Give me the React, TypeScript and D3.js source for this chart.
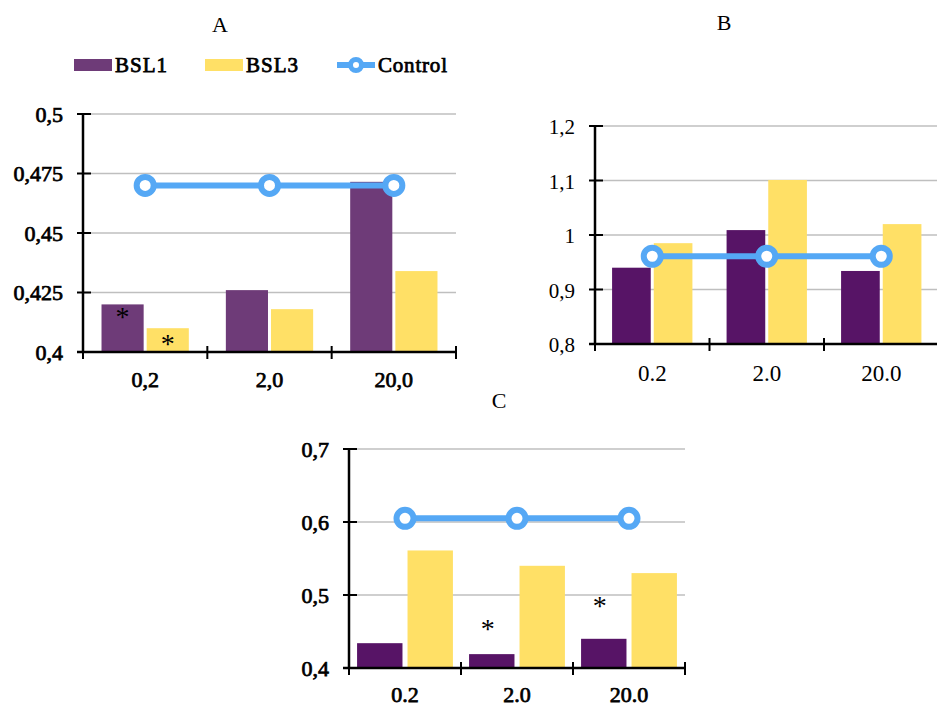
import React from "react";
import * as d3 from "d3";

// ---------- data ----------
const seriesNames = ["BSL1", "BSL3"];

const categoriesA = ["0,2", "2,0", "20,0"];
const bsl1A = [0.42, 0.426, 0.4715];
const bsl3A = [0.41, 0.418, 0.434];
const controlA = [0.47, 0.47, 0.47];
const ticksA = [0.4, 0.425, 0.45, 0.475, 0.5];
const tickLabelsA = ["0,4", "0,425", "0,45", "0,475", "0,5"];
const starsA = [
  { cat: 0, series: 0, value: 0.4164 },
  { cat: 0, series: 1, value: 0.405 },
];

const categoriesB = ["0.2", "2.0", "20.0"];
const bsl1B = [0.94, 1.009, 0.934];
const bsl3B = [0.985, 1.101, 1.02];
const controlB = [0.961, 0.961, 0.961];
const ticksB = [0.8, 0.9, 1.0, 1.1, 1.2];
const tickLabelsB = ["0,8", "0,9", "1", "1,1", "1,2"];

const categoriesC = ["0.2", "2.0", "20.0"];
const bsl1C = [0.434, 0.419, 0.44];
const bsl3C = [0.561, 0.54, 0.53];
const controlC = [0.605, 0.605, 0.605];
const ticksC = [0.4, 0.5, 0.6, 0.7];
const tickLabelsC = ["0,4", "0,5", "0,6", "0,7"];
const starsC = [
  { cat: 1, series: 0, value: 0.459 },
  { cat: 2, series: 0, value: 0.49 },
];

const BLUE = "#55A8F5";
const YELLOW = "#FFE066";
const FONT = "Liberation Serif, Times New Roman, serif";

// faux-bold props (thin stroke on regular serif)
const boldProps = { stroke: "#000", strokeWidth: 0.75, paintOrder: "stroke" } as any;

type PanelProps = {
  title: string;
  titleX: number;
  titleY: number;
  left: number;
  right: number;
  top: number;
  bottom: number;
  categories: string[];
  s1: number[];
  s2: number[];
  control: number[];
  ticks: number[];
  tickLabels: string[];
  bold: boolean;
  fontSize: number;
  yFontSize: number;
  yDx?: number;
  c1: string;
  padOuter: number;
  padInner: number;
  xLabelOffset: number;
  stars?: { cat: number; series: number; value: number }[];
  starDx?: number;
};

function Panel(p: PanelProps) {
  const y = d3
    .scaleLinear()
    .domain([p.ticks[0], p.ticks[p.ticks.length - 1]])
    .range([p.bottom, p.top]);
  const x0 = d3.scaleBand<string>().domain(p.categories).range([p.left, p.right]).padding(0);
  const x1 = d3
    .scaleBand<string>()
    .domain(seriesNames)
    .range([0, x0.bandwidth()])
    .paddingInner(p.padInner)
    .paddingOuter(p.padOuter);
  const vals = [p.s1, p.s2];
  const colors = [p.c1, YELLOW];
  const line = d3
    .line<number>()
    .x((_, i) => (x0(p.categories[i]) as number) + x0.bandwidth() / 2)
    .y((d) => y(d));
  const bp = p.bold ? boldProps : {};
  const boundaries = [...p.categories.map((c) => x0(c) as number), p.right];
  return (
    <g fontFamily={FONT}>
      <text x={p.titleX} y={p.titleY} fontSize={22} textAnchor="middle" dominantBaseline="central" fill="#000">
        {p.title}
      </text>
      {p.ticks.slice(1).map((t, i) => (
        <line key={"g" + i} x1={p.left} x2={p.right} y1={y(t)} y2={y(t)} stroke="#BFBFBF" strokeWidth={1.5} />
      ))}
      {p.categories.map((c, ci) =>
        seriesNames.map((s, si) => (
          <rect
            key={c + s}
            x={(x0(c) as number) + (x1(s) as number)}
            y={y(vals[si][ci])}
            width={x1.bandwidth()}
            height={p.bottom - y(vals[si][ci])}
            fill={colors[si]}
          />
        ))
      )}
      {/* axes */}
      <line x1={p.left} x2={p.left} y1={p.top} y2={p.bottom} stroke="#000" strokeWidth={2.5} />
      <line x1={p.left - 6} x2={p.right} y1={p.bottom} y2={p.bottom} stroke="#000" strokeWidth={2.5} />
      {p.ticks.map((t, i) => (
        <g key={"t" + i}>
          <line x1={p.left - 6} x2={p.left + 8} y1={y(t)} y2={y(t)} stroke="#000" strokeWidth={2} />
          <text
            x={p.left - 20}
            y={y(t) + (p.yDx || 0)}
            textAnchor="end"
            dominantBaseline="central"
            fontSize={p.yFontSize}
            fill="#000"
            {...bp}
          >
            {p.tickLabels[i]}
          </text>
        </g>
      ))}
      {boundaries.map((bx, i) => (
        <line key={"xt" + i} x1={bx} x2={bx} y1={p.bottom - 6} y2={p.bottom + 7} stroke="#000" strokeWidth={2} />
      ))}
      {p.categories.map((c) => (
        <text
          key={"xl" + c}
          x={(x0(c) as number) + x0.bandwidth() / 2}
          y={p.bottom + p.xLabelOffset}
          textAnchor="middle"
          dominantBaseline="central"
          fontSize={p.fontSize}
          fill="#000"
          {...bp}
        >
          {c}
        </text>
      ))}
      <path d={line(p.control) || ""} fill="none" stroke={BLUE} strokeWidth={6} />
      {p.control.map((v, i) => (
        <circle
          key={"m" + i}
          cx={(x0(p.categories[i]) as number) + x0.bandwidth() / 2}
          cy={y(v)}
          r={8.5}
          fill="#fff"
          stroke={BLUE}
          strokeWidth={6}
        />
      ))}
      {(p.stars || []).map((s, i) => (
        <text
          key={"s" + i}
          x={(x0(p.categories[s.cat]) as number) + (x1(seriesNames[s.series]) as number) + x1.bandwidth() / 2 + (p.starDx || 0)}
          y={y(s.value) + 13}
          textAnchor="middle"
          fontSize={28}
          fill="#000"
        >
          *
        </text>
      ))}
    </g>
  );
}

function Legend() {
  const items = [
    { name: "BSL1", x: 74, color: "#6E3B78", type: "rect" },
    { name: "BSL3", x: 205, color: YELLOW, type: "rect" },
    { name: "Control", x: 337, color: BLUE, type: "line" },
  ];
  const cy = 65;
  return (
    <g fontFamily={FONT}>
      {items.map((it) => (
        <g key={it.name}>
          {it.type === "rect" ? (
            <rect x={it.x} y={cy - 6} width={38} height={12} fill={it.color} />
          ) : (
            <g>
              <line x1={it.x} x2={it.x + 38} y1={cy} y2={cy} stroke={it.color} strokeWidth={6} />
              <circle cx={it.x + 19} cy={cy} r={5.5} fill="#fff" stroke={it.color} strokeWidth={5} />
            </g>
          )}
          <text
            x={it.x + 41}
            y={cy}
            dominantBaseline="central"
            fontSize={21}
            fill="#000"
            letterSpacing={it.name === "Control" ? 0.8 : 1}
            {...boldProps}
          >
            {it.name}
          </text>
        </g>
      ))}
    </g>
  );
}

export default function App() {
  return (
    <svg
      width={937}
      height={705}
      style={{ position: "fixed", left: 0, top: 0, background: "#fff" }}
    >
      <rect width={937} height={705} fill="#fff" />
      <Legend />
      <Panel
        title="A"
        titleX={220}
        titleY={24}
        left={83}
        right={456}
        top={114}
        bottom={352}
        categories={categoriesA}
        s1={bsl1A}
        s2={bsl3A}
        control={controlA}
        ticks={ticksA}
        tickLabels={tickLabelsA}
        bold={true}
        fontSize={22}
        yFontSize={22}
        c1="#6E3B78"
        padInner={0.067}
        padOuter={0.41}
        xLabelOffset={27}
        stars={starsA}
      />
      <Panel
        title="B"
        titleX={724}
        titleY={22}
        left={595}
        right={938.5}
        top={126}
        bottom={344}
        categories={categoriesB}
        s1={bsl1B}
        s2={bsl3B}
        control={controlB}
        ticks={ticksB}
        tickLabels={tickLabelsB}
        bold={false}
        fontSize={23}
        yFontSize={21}
        yDx={1}
        c1="#571466"
        padInner={0.072}
        padOuter={0.41}
        xLabelOffset={29}
      />
      <Panel
        title="C"
        titleX={499}
        titleY={400}
        left={349}
        right={685}
        top={449}
        bottom={668}
        categories={categoriesC}
        s1={bsl1C}
        s2={bsl3C}
        control={controlC}
        ticks={ticksC}
        tickLabels={tickLabelsC}
        bold={true}
        fontSize={22}
        yFontSize={22}
        c1="#571466"
        padInner={0.1}
        padOuter={0.16}
        xLabelOffset={26}
        stars={starsC}
        starDx={-4}
      />
    </svg>
  );
}
